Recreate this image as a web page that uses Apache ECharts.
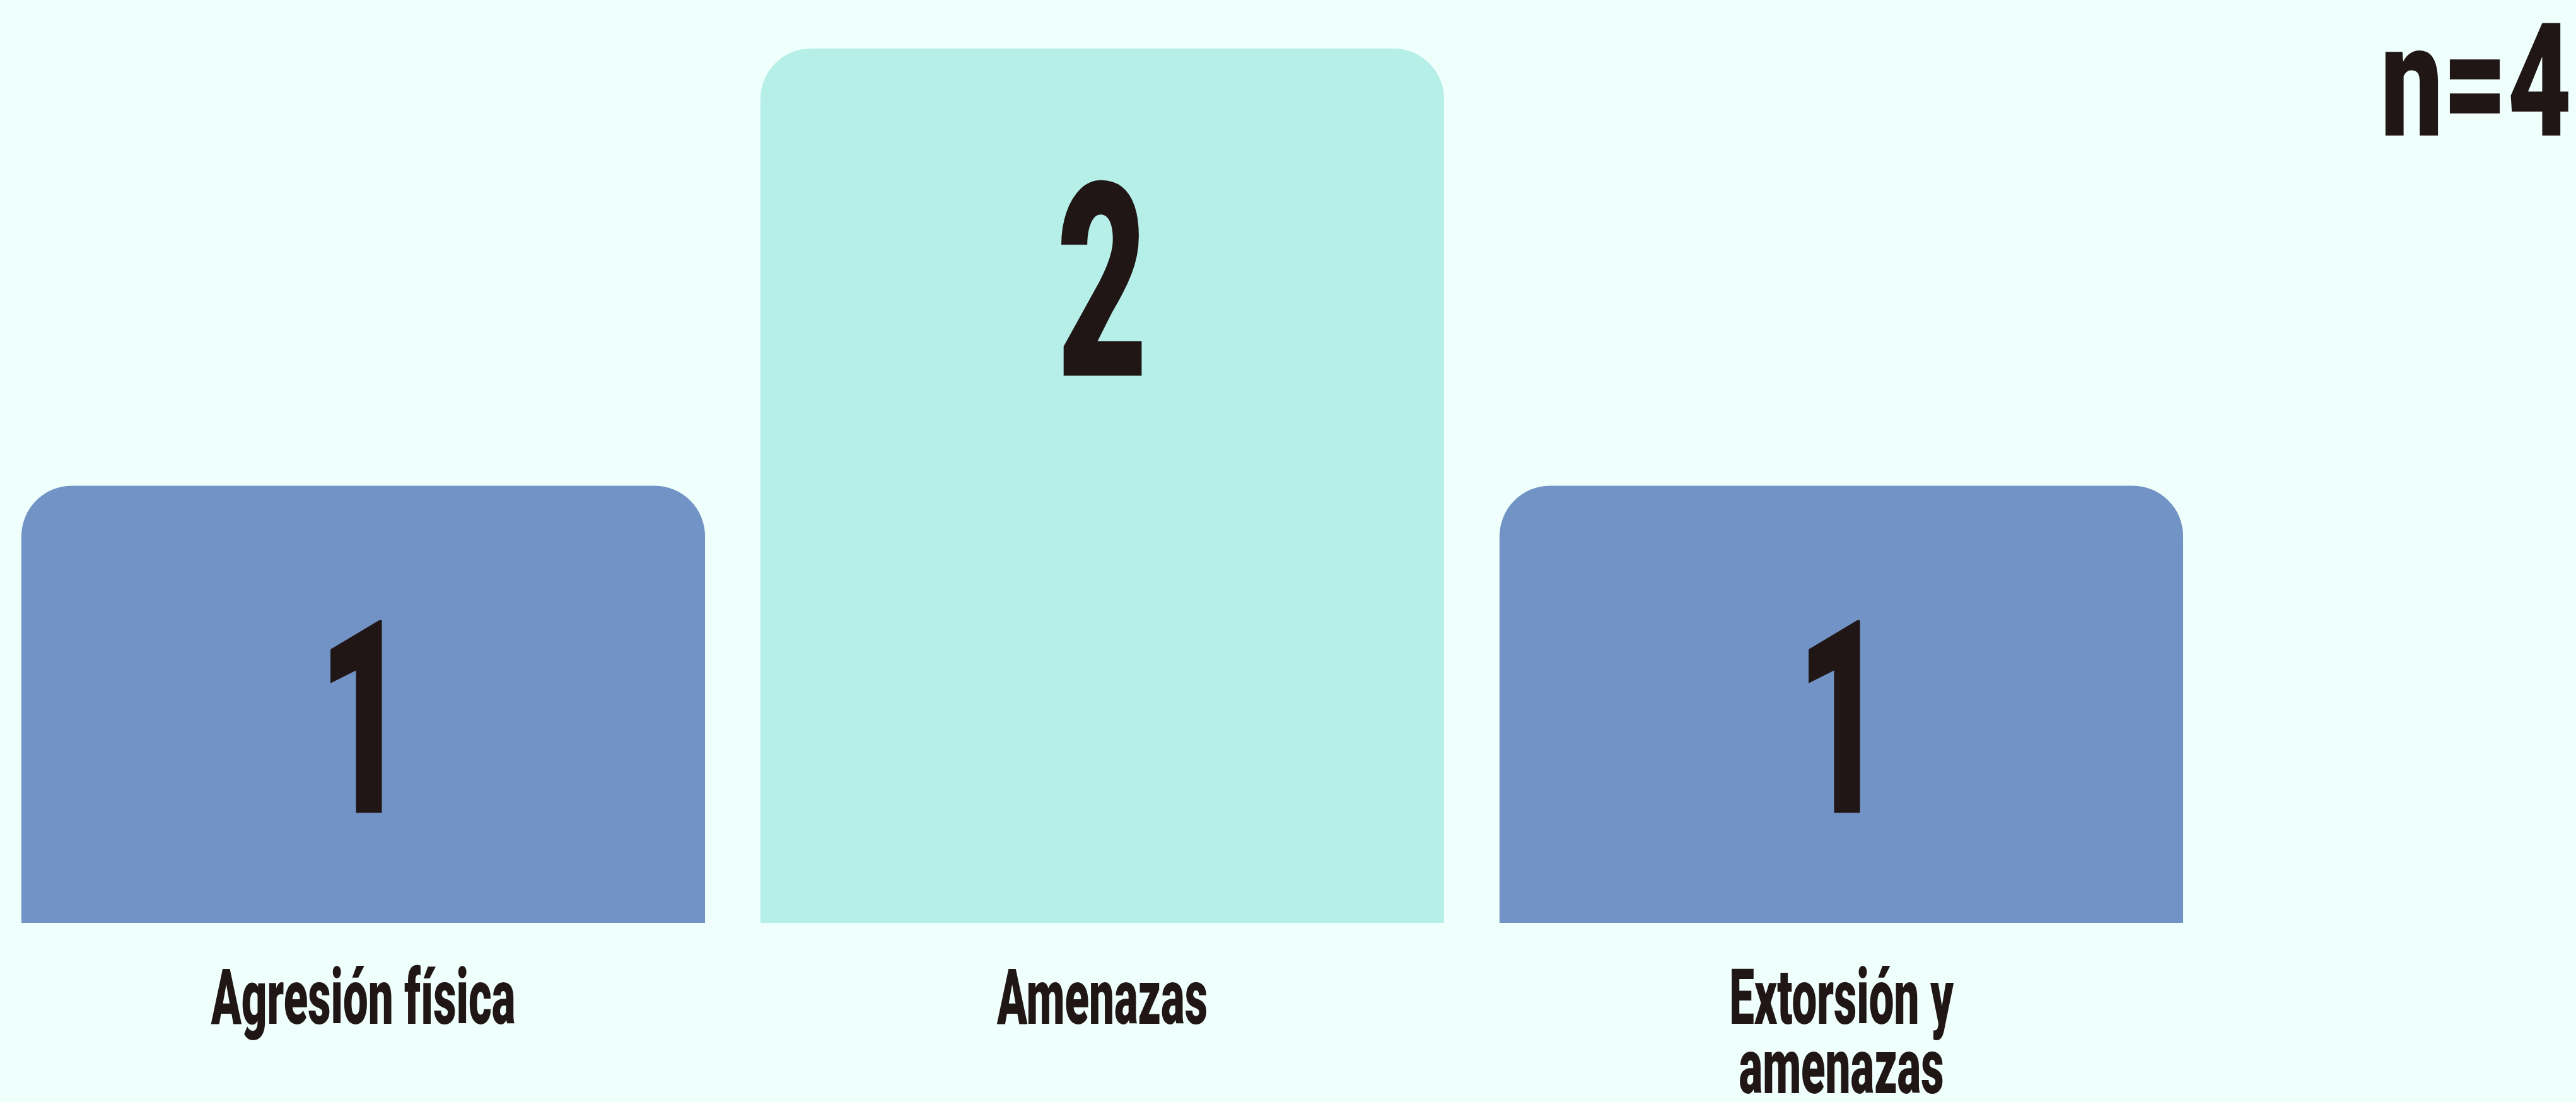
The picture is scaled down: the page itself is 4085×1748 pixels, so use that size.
<!DOCTYPE html>
<html>
<head>
<meta charset="utf-8">
<script src="https://cdn.jsdelivr.net/npm/echarts@6/dist/echarts.min.js"></script>
<style>
html,body{margin:0;padding:0;background:#EFFFFC;}
#chart{width:4085px;height:1748px;}
</style>
</head>
<body>
<div id="chart"></div>
<script>
// ---- data ----
const categories = ['Agresión física', 'Amenazas', 'Extorsión y\namenazas'];
const values = [1, 2, 1];
const totalLabel = 'n=4';

// ---- styles ----
const barColors = ['#7293C6', '#B6EFE8', '#7293C6'];
const textColor = '#211616';
const fontFamily = 'Roboto, "Liberation Sans", sans-serif';
const squeeze = 0.58;

const chart = echarts.init(document.getElementById('chart'), null, {renderer: 'svg'});

const option = {
  backgroundColor: '#EFFFFC',
  animation: false,
  grid: {left: -10, width: 3516, top: 77, bottom: 284, outerBoundsMode: 'none', containLabel: false},
  xAxis: {
    type: 'category',
    data: categories,
    show: false
  },
  yAxis: {type: 'value', min: 0, max: 2, show: false},
  graphic: [{
    type: 'text',
    x: 4078,
    y: 130,
    scaleX: 0.70,
    z: 20,
    style: {
      text: totalLabel,
      fontSize: 250,
      fontFamily: fontFamily,
      fontWeight: 900,
      fill: textColor,
      align: 'right',
      verticalAlign: 'middle'
    }
  }],
  series: [
    {
      type: 'bar',
      z: 2,
      barCategoryGap: '7.5%',
      data: values.map((v, i) => ({value: v, itemStyle: {color: barColors[i], borderRadius: [80, 80, 0, 0]}})),
      label: {show: false}
    },
    {
      type: 'custom',
      z: 10,
      clip: false,
      data: values.map((v, i) => [i, v]),
      renderItem: function (params, api) {
        const p = api.coord([api.value(0), api.value(1)]);
        return {
          type: 'text',
          x: p[0],
          y: p[1] + 372,
          scaleX: squeeze,
          z2: 100,
          style: {
            text: String(values[params.dataIndex]),
            fontSize: 430,
            fontFamily: fontFamily,
            fontWeight: 900,
            fill: textColor,
            align: 'center',
            verticalAlign: 'middle'
          }
        };
      }
    },
    {
      type: 'custom',
      z: 10,
      clip: false,
      data: categories.map((c, i) => [i, 0]),
      renderItem: function (params, api) {
        const p = api.coord([api.value(0), 0]);
        return {
          type: 'text',
          x: p[0],
          y: p[1] + 63,
          scaleX: squeeze,
          style: {
            text: categories[params.dataIndex],
            fontSize: 122,
            lineHeight: 110,
            fontFamily: fontFamily,
            fontWeight: 900,
            fill: textColor,
            align: 'center',
            verticalAlign: 'top'
          }
        };
      }
    }
  ]
};
chart.setOption(option);
</script>
</body>
</html>
